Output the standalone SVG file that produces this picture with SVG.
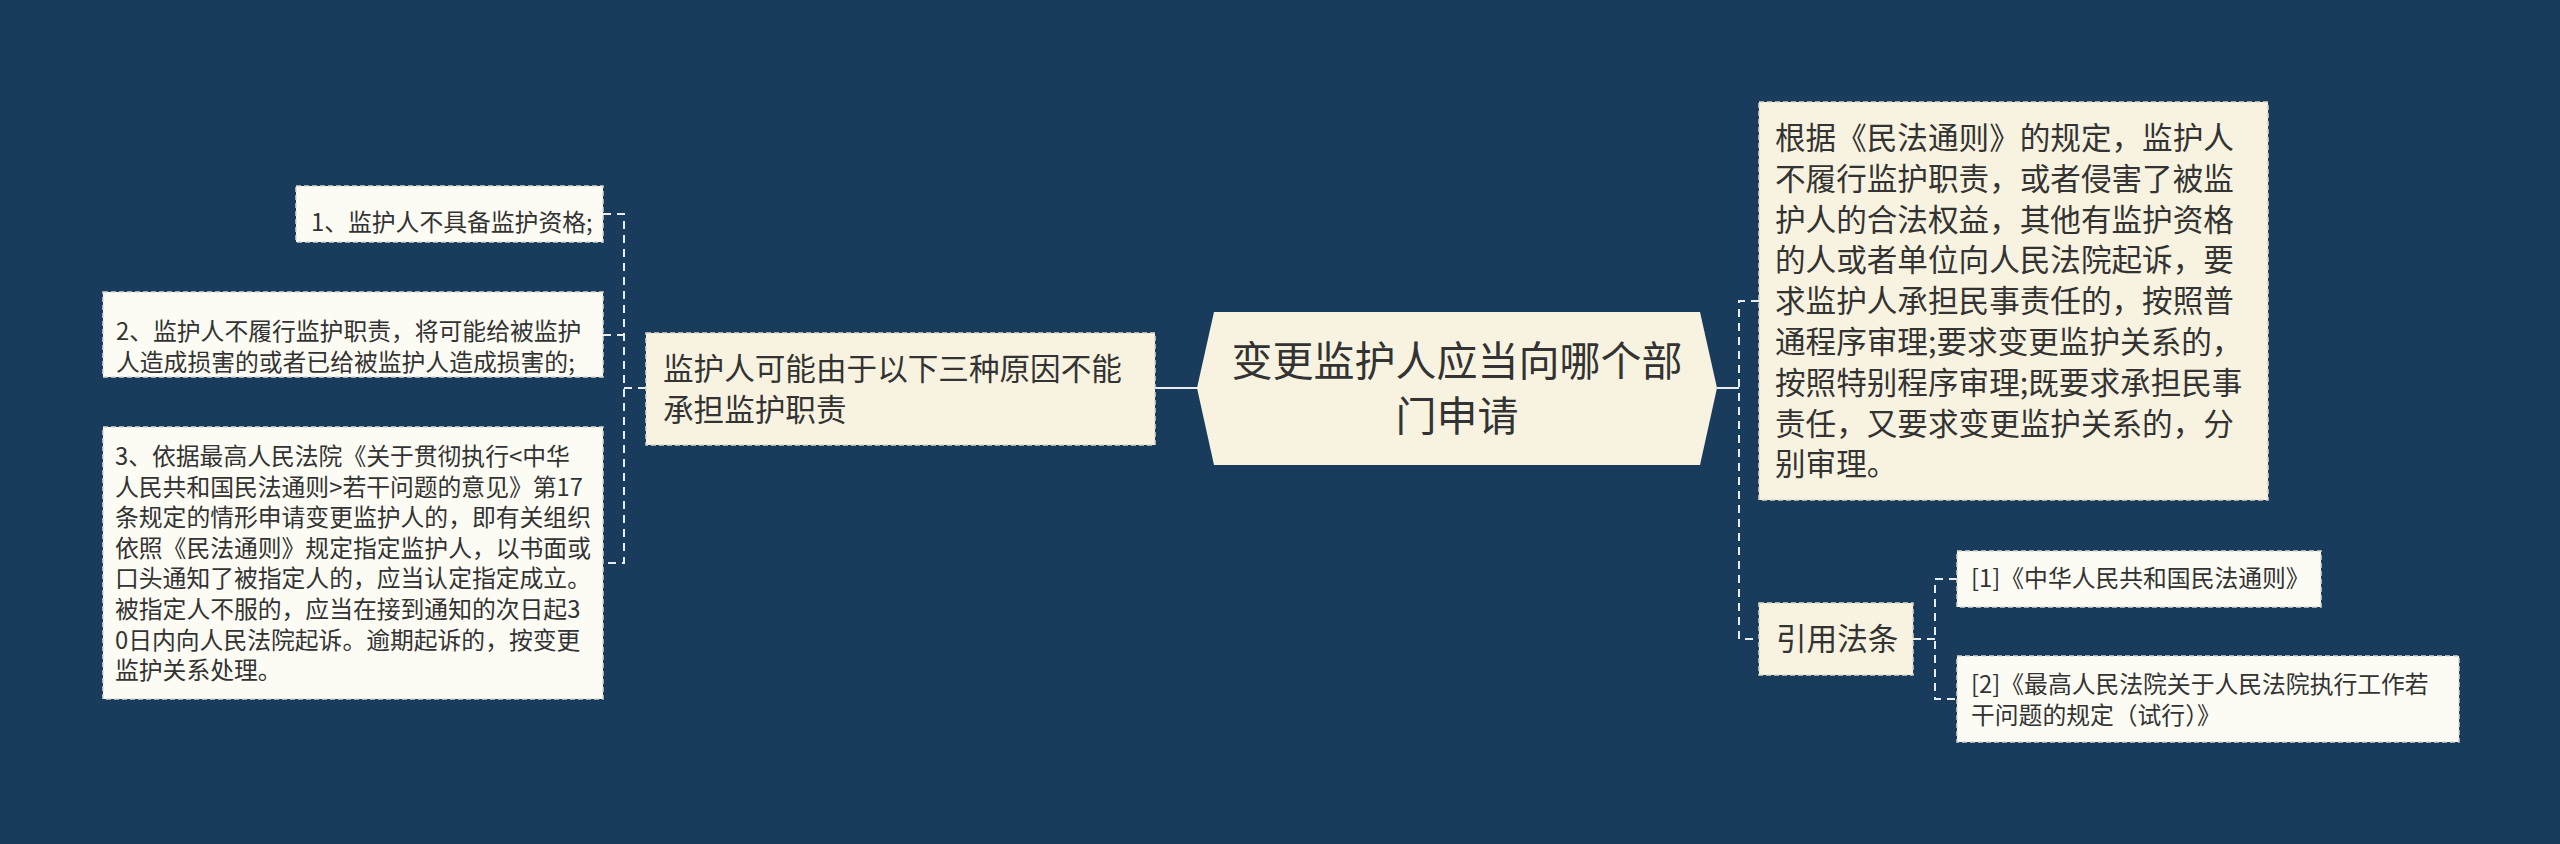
<svg xmlns="http://www.w3.org/2000/svg" width="2560" height="844" viewBox="0 0 2560 844">
<style>
.t{font-family:"Noto Sans CJK SC","Noto Sans",sans-serif;fill:#333333}
.node{fill:#f8f3e0;stroke:#dcd8c6;stroke-width:1.5;stroke-dasharray:5 3}
.leaf{fill:#fdfcf4;stroke:#d8d8d0;stroke-width:1.5;stroke-dasharray:5 3}
.c{fill:none;stroke:#e6ecf0;stroke-width:2;stroke-dasharray:8 6}
.s{fill:none;stroke:#e6ecf0;stroke-width:2}
</style>
<rect width="2560" height="844" fill="#1a3c5c"/>
<g id="connectors">
<line class="s" x1="1155" y1="388" x2="1198" y2="388"/>
<path class="c" d="M603 214 H624 V563 H603 M603 335 H624 M624 388 H646"/>
<line class="s" x1="1717" y1="388" x2="1739" y2="388"/>
<path class="c" d="M1759 301 H1739 V639 H1759"/>
<path class="c" d="M1913 639 H1935 M1957 579 H1935 V699 H1957"/>
</g>
<g id="central">
<polygon points="1197,388 1214,312 1700,312 1717,388 1700,465 1214,465" fill="#f8f3e0"/>
<text class="t" font-size="41" text-anchor="middle"><tspan x="1457" y="376">变更监护人应当向哪个部</tspan><tspan x="1457" y="431">门申请</tspan></text>
</g>
<g id="left-node">
<rect class="node" x="646" y="333" width="509" height="112"/>
<text class="t" font-size="30.6"><tspan x="663" y="380">监护人可能由于以下三种原因不能</tspan><tspan x="663" y="420.8">承担监护职责</tspan></text>
</g>
<g id="item1">
<rect class="leaf" x="296" y="186" width="307" height="56"/>
<text class="t" font-size="23.8" x="311" y="231">1、监护人不具备监护资格;</text>
</g>
<g id="item2">
<rect class="leaf" x="103" y="292" width="500" height="85"/>
<text class="t" font-size="23.8"><tspan x="116" y="340">2、监护人不履行监护职责，将可能给被监护</tspan><tspan x="116" y="370.6">人造成损害的或者已给被监护人造成损害的;</tspan></text>
</g>
<g id="item3">
<rect class="leaf" x="103" y="427" width="500" height="272"/>
<text class="t" font-size="23.8"><tspan x="115" y="465">3、依据最高人民法院《关于贯彻执行&lt;中华</tspan><tspan x="115" y="495.6">人民共和国民法通则&gt;若干问题的意见》第17</tspan><tspan x="115" y="526.2">条规定的情形申请变更监护人的，即有关组织</tspan><tspan x="115" y="556.8">依照《民法通则》规定指定监护人，以书面或</tspan><tspan x="115" y="587.4">口头通知了被指定人的，应当认定指定成立。</tspan><tspan x="115" y="618">被指定人不服的，应当在接到通知的次日起3</tspan><tspan x="115" y="648.6">0日内向人民法院起诉。逾期起诉的，按变更</tspan><tspan x="115" y="679.2">监护关系处理。</tspan></text>
</g>
<g id="right-node">
<rect class="node" x="1759" y="102" width="509" height="398"/>
<text class="t" font-size="30.6"><tspan x="1775" y="149">根据《民法通则》的规定，监护人</tspan><tspan x="1775" y="189.8">不履行监护职责，或者侵害了被监</tspan><tspan x="1775" y="230.6">护人的合法权益，其他有监护资格</tspan><tspan x="1775" y="271.4">的人或者单位向人民法院起诉，要</tspan><tspan x="1775" y="312.2">求监护人承担民事责任的，按照普</tspan><tspan x="1775" y="353">通程序审理;要求变更监护关系的，</tspan><tspan x="1775" y="393.8">按照特别程序审理;既要求承担民事</tspan><tspan x="1775" y="434.6">责任，又要求变更监护关系的，分</tspan><tspan x="1775" y="475.4">别审理。</tspan></text>
</g>
<g id="cite-node">
<rect class="node" x="1759" y="603" width="154" height="72"/>
<text class="t" font-size="30.6" x="1776" y="650">引用法条</text>
</g>
<g id="cite1">
<rect class="leaf" x="1957" y="551" width="364" height="56"/>
<text class="t" font-size="23.8" x="1971" y="587">[1]《中华人民共和国民法通则》</text>
</g>
<g id="cite2">
<rect class="leaf" x="1957" y="656" width="502" height="86"/>
<text class="t" font-size="23.8"><tspan x="1971" y="693">[2]《最高人民法院关于人民法院执行工作若</tspan><tspan x="1971" y="723.6">干问题的规定（试行）》</tspan></text>
</g>
</svg>
